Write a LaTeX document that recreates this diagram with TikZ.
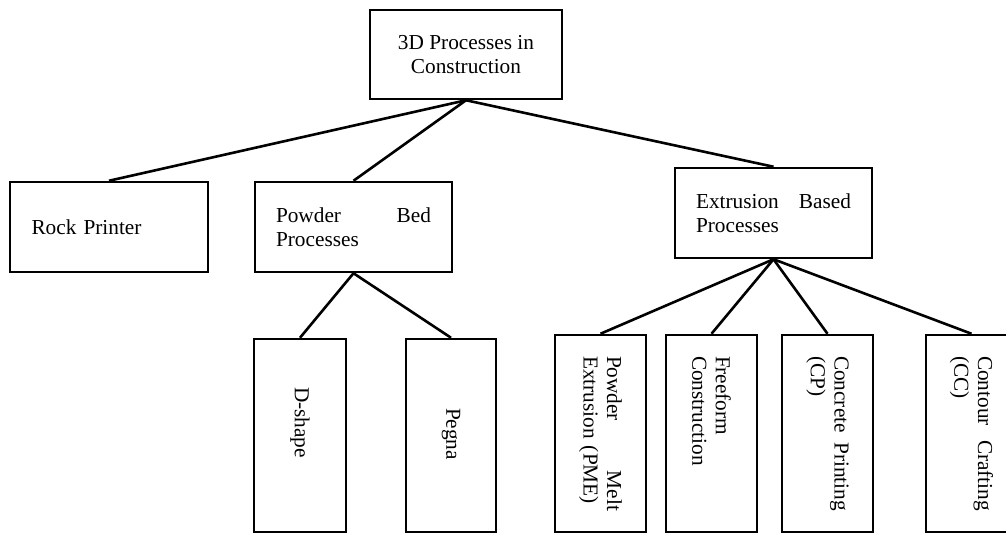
\documentclass[tikz,border=0pt]{standalone}
\usepackage{fontspec}
\setmainfont{Liberation Serif}
\begin{document}
\begin{tikzpicture}[x=1pt,y=-1pt,
  every node/.style={font=\fontsize{21.3}{23.6}\selectfont},
  box/.style={draw, line width=2.5pt, rectangle, inner sep=0pt},
  hbox/.style={box, minimum width=197pt, minimum height=90pt, text width=155pt, align=left},
  vbox/.style={box, rotate=-90, minimum width=197pt, minimum height=91pt, text width=155pt, align=left},
  link/.style={line width=2.6pt}]
\useasboundingbox (0,0) rectangle (1006,535);
\clip (0,0) rectangle (1006,535);

\node[box, minimum width=192pt, minimum height=89pt, align=center] (top) at (466,54.5) {3D Processes in\\Construction};

\node[hbox, minimum width=198pt] (rock) at (109,227) {Rock Printer};
\node[hbox] (pbed) at (353.5,227) {Powder\hfill Bed\\Processes};
\node[hbox] (ext) at (773.5,213) {Extrusion\hfill Based\\Processes};

\node[vbox, minimum width=193pt, minimum height=92pt] (dshape) at (300,435.5) {\hspace*{29pt}D-shape};
\node[vbox, minimum width=193pt, minimum height=90pt] (pegna) at (451,435.5) {\hspace*{50pt}Pegna};

\node[vbox] (pme) at (600.5,433.5) {Powder\hfill Melt\\Extrusion (PME)};
\node[vbox] (free) at (711.5,433.5) {Freeform\\Construction};
\node[vbox] (conc) at (827.5,433.5) {Concrete\hfill Printing\\(CP)};
\node[vbox] (cont) at (971.5,433.5) {Contour\hfill Crafting\\(CC)};

\draw[link] (top.south) -- (rock.north);
\draw[link] (top.south) -- (pbed.north);
\draw[link] (top.south) -- (ext.north);
\draw[link] (pbed.south) -- (dshape.west);
\draw[link] (pbed.south) -- (pegna.west);
\draw[link] (ext.south) -- (pme.west);
\draw[link] (ext.south) -- (free.west);
\draw[link] (ext.south) -- (conc.west);
\draw[link] (ext.south) -- (cont.west);
\end{tikzpicture}
\end{document}
